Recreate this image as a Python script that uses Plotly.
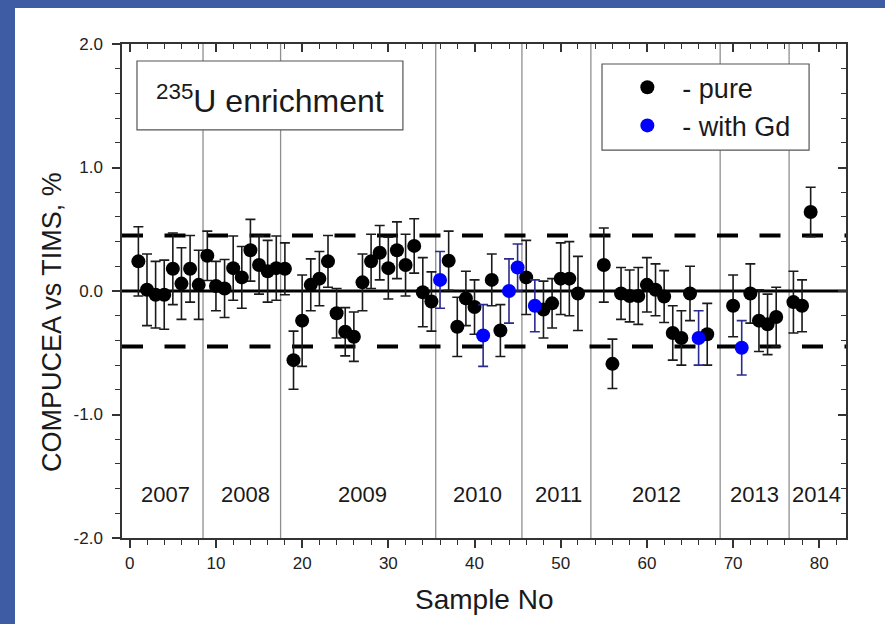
import plotly.graph_objects as go

# ---------------- data ----------------
pure_x = [1, 2, 3, 4, 5, 6, 7, 8, 9, 10, 11, 12, 13, 14, 15, 16, 17, 18, 19, 20,
          21, 22, 23, 24, 25, 26, 27, 28, 29, 30, 31, 32, 33, 34, 35,
          37, 38, 39, 40, 42, 43, 46, 48, 49, 50, 51, 52,
          55, 56, 57, 58, 59, 60, 61, 62, 63, 64, 65, 67,
          70, 72, 73, 74, 75, 77, 78, 79]
pure_y = [0.24, 0.01, -0.03, -0.03, 0.18, 0.06, 0.18, 0.05, 0.285, 0.04, 0.02, 0.185, 0.11, 0.33, 0.21, 0.16, 0.185, 0.18, -0.56, -0.24,
          0.05, 0.10, 0.24, -0.18, -0.33, -0.37, 0.07, 0.24, 0.31, 0.185, 0.33, 0.21, 0.365, -0.01, -0.085,
          0.245, -0.29, -0.06, -0.13, 0.09, -0.32, 0.11, -0.15, -0.10, 0.10, 0.10, -0.02,
          0.21, -0.59, -0.02, -0.04, -0.04, 0.05, 0.01, -0.045, -0.34, -0.38, -0.02, -0.35,
          -0.12, -0.02, -0.24, -0.27, -0.21, -0.09, -0.12, 0.64]
pure_err = [0.28, 0.29, 0.27, 0.28, 0.29, 0.29, 0.27, 0.28, 0.20, 0.20, 0.235, 0.26, 0.25, 0.25, 0.235, 0.25, 0.26, 0.21, 0.235, 0.37,
            0.21, 0.22, 0.21, 0.20, 0.195, 0.20, 0.23, 0.22, 0.22, 0.25, 0.23, 0.25, 0.22, 0.28, 0.24,
            0.24, 0.24, 0.22, 0.22, 0.21, 0.21, 0.30, 0.23, 0.20, 0.29, 0.30, 0.30,
            0.30, 0.20, 0.21, 0.21, 0.23, 0.22, 0.21, 0.21, 0.22, 0.22, 0.22, 0.25,
            0.25, 0.24, 0.25, 0.245, 0.24, 0.25, 0.21, 0.20]

gd_x = [36, 41, 44, 45, 47, 66, 71]
gd_y = [0.09, -0.36, 0.0, 0.19, -0.12, -0.38, -0.46]
gd_err = [0.23, 0.25, 0.26, 0.19, 0.21, 0.22, 0.22]

year_labels = ["2007", "2008", "2009", "2010", "2011", "2012", "2013", "2014"]
year_pos = [4.1, 13.4, 27.0, 40.4, 49.7, 61.1, 72.5, 79.7]
year_label_y = -1.65
year_bounds = [8.5, 17.5, 35.5, 45.5, 53.5, 68.5, 76.5]
limit = 0.45

y_tickvals = [-2, -1, 0, 1, 2]
y_ticktext = ["-2.0", "-1.0", "0.0", "1.0", "2.0"]

FONT = "Liberation Sans, Arial, sans-serif"
AX = "#333333"
BLUE_FRAME = "#3d5ca3"

fig = go.Figure()

fig.add_trace(go.Scatter(
    x=pure_x, y=pure_y, mode="markers", name="\u00a0\u00a0- pure",
    marker=dict(size=14, color="black", line=dict(width=0)),
    error_y=dict(type="data", array=pure_err, visible=True, color="#1a1a1a", thickness=1.6, width=5),
    legendgroup="a", hoverinfo="skip"))
fig.add_trace(go.Scatter(
    x=gd_x, y=gd_y, mode="markers", name="\u00a0\u00a0- with Gd",
    marker=dict(size=14, color="#0000ff", line=dict(width=0)),
    error_y=dict(type="data", array=gd_err, visible=True, color="#2b2b8c", thickness=1.6, width=5),
    legendgroup="b", hoverinfo="skip"))
# carrier for the mirrored (inside-tick) top/right axes
fig.add_trace(go.Scatter(x=[None], y=[None], xaxis="x2", yaxis="y2", showlegend=False, hoverinfo="skip"))

shapes = []
# white page over blue frame
shapes.append(dict(type="rect", xref="paper", yref="paper", x0=-0.1478, x1=1.2, y0=-0.4, y1=1.0729,
                   fillcolor="white", line=dict(width=0), layer="below"))
for b in year_bounds:
    shapes.append(dict(type="line", xref="x", yref="paper", x0=b, x1=b, y0=0, y1=1,
                       line=dict(color="#8f8f8f", width=1.3), layer="below"))
shapes.append(dict(type="line", xref="paper", yref="y", x0=0, x1=1, y0=0, y1=0,
                   line=dict(color="black", width=3), layer="below"))
for s in (limit, -limit):
    shapes.append(dict(type="line", xref="paper", yref="y", x0=0, x1=1, y0=s, y1=s,
                       line=dict(color="black", width=4, dash="21px,21.5px"), layer="below"))
# text box
shapes.append(dict(type="rect", xref="paper", yref="paper", x0=0.0207, x1=0.388, y0=0.826, y1=0.9656,
                   fillcolor="white", line=dict(color="#555555", width=1.2), layer="below"))
# legend box
shapes.append(dict(type="rect", xref="paper", yref="paper", x0=0.663, x1=0.949, y0=0.785, y1=0.9595,
                   fillcolor="white", line=dict(color="#555555", width=1.2), layer="below"))

annotations = []
for lab, p in zip(year_labels, year_pos):
    annotations.append(dict(x=p, y=year_label_y, xref="x", yref="y", text=lab, showarrow=False,
                            xanchor="center", yanchor="middle",
                            font=dict(size=22, color="#1a1a1a", family=FONT)))
annotations.append(dict(x=0.2044, y=0.888, xref="paper", yref="paper",
                        text="<sup>235</sup>U enrichment", showarrow=False,
                        xanchor="center", yanchor="middle",
                        font=dict(size=32, color="#1a1a1a", family=FONT)))
annotations.append(dict(x=-0.097, y=0.437, xref="paper", yref="paper", text="COMPUCEA vs TIMS, %",
                        textangle=-90, showarrow=False, xanchor="center", yanchor="middle",
                        font=dict(size=27, color="#1a1a1a", family=FONT)))
annotations.append(dict(x=0.5, y=-0.1255, xref="paper", yref="paper", text="Sample No",
                        showarrow=False, xanchor="center", yanchor="middle",
                        font=dict(size=28, color="#1a1a1a", family=FONT)))

xr = [-0.9, 83.1]
yr = [-2, 2]

fig.update_layout(
    width=885, height=624,
    margin=dict(l=122, r=39, t=44, b=86, pad=0),
    paper_bgcolor=BLUE_FRAME, plot_bgcolor="white",
    font=dict(family=FONT, color="#1a1a1a"),
    shapes=shapes, annotations=annotations,
    showlegend=True,
    legend=dict(x=0.698, y=0.961, xanchor="left", yanchor="top", bgcolor="rgba(0,0,0,0)",
                borderwidth=0, font=dict(size=27, family=FONT, color="#1a1a1a"),
                traceorder="grouped", tracegroupgap=0),
    xaxis=dict(range=xr, tickmode="linear", tick0=0, dtick=10, ticks="outside", ticklen=8,
               tickwidth=1.5, tickcolor=AX, showline=True, linecolor=AX, linewidth=1.5, mirror=True,
               showgrid=False, zeroline=False, tickfont=dict(size=17, color="#222"), ticklabelstandoff=1,
               minor=dict(tickmode="linear", tick0=0, dtick=2, ticks="outside", ticklen=5,
                          tickwidth=1.3, tickcolor=AX, showgrid=False)),
    yaxis=dict(range=yr, tickmode="array", tickvals=y_tickvals, ticktext=y_ticktext, ticks="outside",
               ticklen=8, tickwidth=1.5, tickcolor=AX, showline=True, linecolor=AX, linewidth=1.5,
               mirror=True, showgrid=False, zeroline=False, tickfont=dict(size=17, color="#222"),
               ticklabelstandoff=6,
               minor=dict(tickmode="linear", tick0=0, dtick=0.2, ticks="outside", ticklen=5,
                          tickwidth=1.3, tickcolor=AX, showgrid=False)),
    xaxis2=dict(range=xr, overlaying="x", side="top", tickmode="linear", tick0=0, dtick=10,
                ticks="inside", ticklen=8, tickwidth=1.5, tickcolor=AX, showticklabels=False,
                showline=False, showgrid=False, zeroline=False,
                minor=dict(tickmode="linear", tick0=0, dtick=2, ticks="inside", ticklen=5,
                           tickwidth=1.3, tickcolor=AX, showgrid=False)),
    yaxis2=dict(range=yr, overlaying="y", side="right", tickmode="linear", tick0=0, dtick=1,
                ticks="inside", ticklen=8, tickwidth=1.5, tickcolor=AX, showticklabels=False,
                showline=False, showgrid=False, zeroline=False,
                minor=dict(tickmode="linear", tick0=0, dtick=0.2, ticks="inside", ticklen=5,
                           tickwidth=1.3, tickcolor=AX, showgrid=False)),
)

fig.write_html(
    "out.html",
    config={"displayModeBar": False},
    post_script="document.body.style.margin='0';document.body.style.background='" + BLUE_FRAME + "';",
)
